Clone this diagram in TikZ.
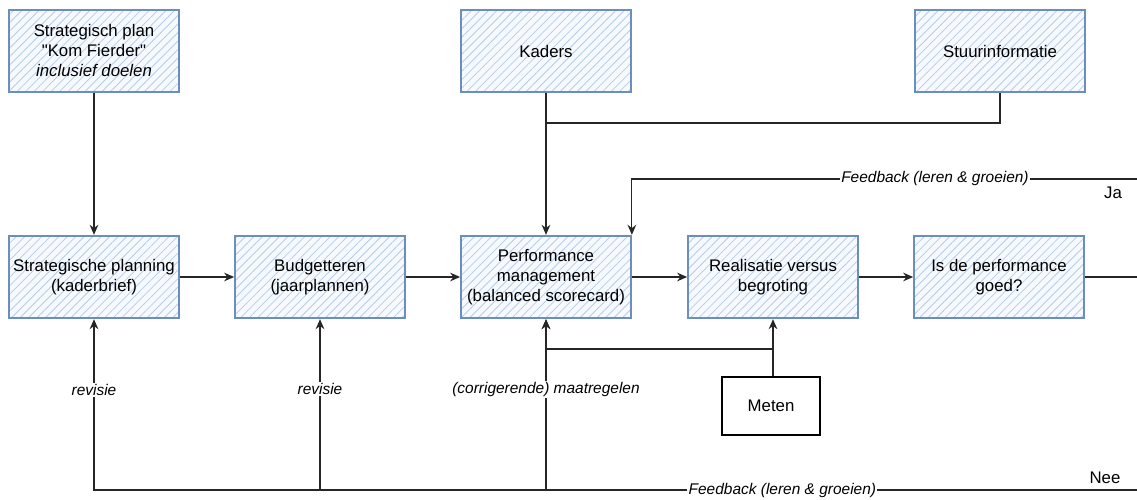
\documentclass[tikz,border=0pt]{standalone}
\usepackage{fontspec}
\setmainfont{Liberation Sans}
\usetikzlibrary{arrows.meta, positioning, patterns.meta}

\definecolor{rand}{RGB}{108,142,191}
\definecolor{arcering}{RGB}{184,204,234}
\definecolor{vulling}{RGB}{246,249,254}

\tikzset{
  blok/.style={draw=rand, line width=1.3pt, minimum width=127.5pt, minimum height=62pt,
    align=center, font=\fontsize{12.6}{15}\selectfont,
    preaction={fill=vulling},
    preaction={pattern={Lines[angle=45,distance=4.5pt,line width=0.6pt]}, pattern color=arcering}},
  meetblok/.style={draw=black, line width=1.3pt, fill=white, minimum width=73.5pt, minimum height=43pt,
    font=\fontsize{12.6}{15}\selectfont},
  lijn/.style={line width=0.9pt, draw=black!85},
  pijl/.style={lijn, -{Stealth[length=7.5pt,width=6.5pt]}},
  lab/.style={fill=white, inner sep=1pt, font=\fontsize{11.6}{14}\selectfont\itshape},
  kop/.style={font=\fontsize{12.6}{15}\selectfont}
}

\begin{document}
\begin{tikzpicture}[x=0.75pt, y=-0.75pt]
\useasboundingbox (0,0) rectangle (1137,499);

% bovenste rij
\node[blok] (plan) at (94,51) {Strategisch plan\\\textquotedbl Kom Fierder\textquotedbl\\\textit{inclusief doelen}};
\node[blok] (kaders) at (546,51) {Kaders};
\node[blok] (stuur) at (1000,51) {Stuurinformatie};

% middelste rij
\node[blok] (planning) at (94,277) {Strategische planning\\(kaderbrief)};
\node[blok] (budget) at (320,277) {Budgetteren\\(jaarplannen)};
\node[blok] (perf) at (546,277) {Performance\\management\\(balanced scorecard)};
\node[blok] (real) at (773,277) {Realisatie versus\\begroting};
\node[blok] (goed) at (999,277) {Is de performance\\goed?};

\node[meetblok] (meten) at (771,406) {Meten};

\coordinate (samen) at (546,123);
\coordinate (ja) at (1137,179);
\coordinate (uit) at (1137,277);
\coordinate (meetpunt) at (773,349);
\coordinate (nee) at (1137,490);

\draw[pijl] (plan) -- (planning);
\draw[pijl] (kaders) -- (perf);
\draw[lijn] (stuur) |- (samen);

\draw[pijl] (planning) -- (budget);
\draw[pijl] (budget) -- (perf);
\draw[pijl] (perf) -- (real);
\draw[pijl] (real) -- (goed);
\draw[lijn] (goed) -- (uit);

\draw[pijl] (ja) -| node[lab, pos=0.2] {Feedback (leren \& groeien)} (perf.north east);
\node[kop] at (1113,193) {Ja};

\draw[pijl] (meten.north -| real) -- (real);
\draw[pijl] (meetpunt) -| (perf);

\draw[pijl] (nee) -| node[lab, pos=0.17] {Feedback (leren \& groeien)}
  node[lab, pos=0.794] {revisie} (planning);
\draw[pijl] (budget |- nee) -- node[lab, pos=0.59] {revisie} (budget);
\draw[pijl] (perf |- nee) -- node[lab, pos=0.59] {(corrigerende) maatregelen} (perf);
\node[kop] at (1105,478) {Nee};
\end{tikzpicture}
\end{document}
